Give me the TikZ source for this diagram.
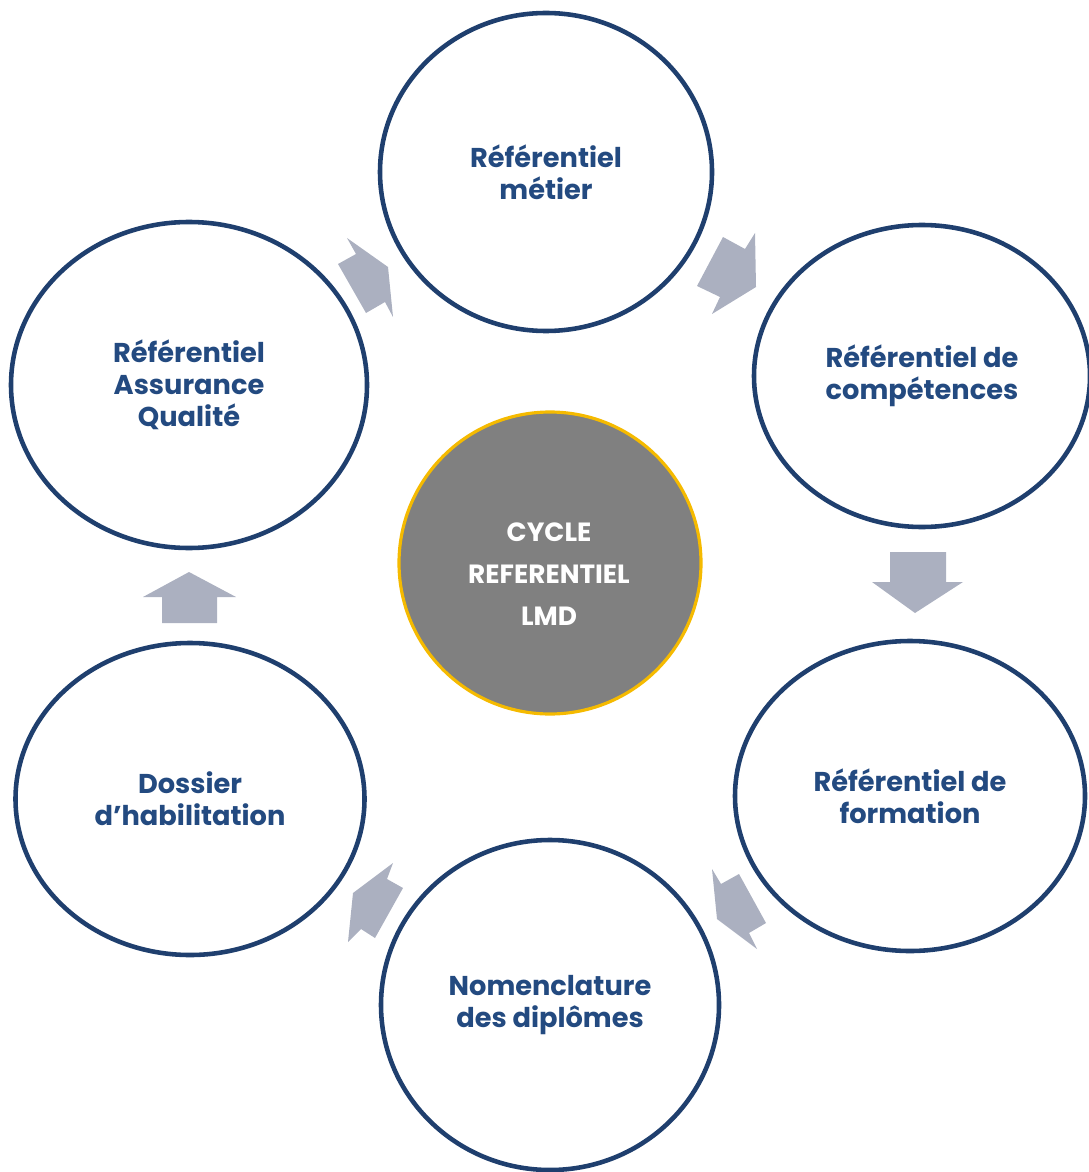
\documentclass[tikz,border=0pt]{standalone}
\usepackage{fontspec}
\setmainfont{Poppins}
\usepackage{tikz}
\usetikzlibrary{shapes.geometric}
\definecolor{ringblue}{HTML}{1F3F6E}
\definecolor{labelblue}{HTML}{234A80}
\definecolor{arrowgray}{HTML}{ABB0C0}
\definecolor{coregray}{HTML}{808080}
\definecolor{coregold}{HTML}{F5BA00}
\tikzset{every node/.style={align=center},
  ring/.style={ellipse, draw=ringblue, line width=2.6pt, fill=white, inner sep=0pt,
    font=\fontsize{15.5}{18.3}\selectfont\bfseries, text=labelblue},
  core/.style={circle, draw=coregold, line width=1.8pt, fill=coregray, inner sep=0pt,
    minimum size=302*0.02cm},
  coretext/.style={font=\fontsize{15}{24}\selectfont\bfseries, text=white},
  blockarrow/.style={fill=arrowgray, draw=none}}

\begin{document}
\begin{tikzpicture}[x=0.02cm, y=-0.02cm]
    \useasboundingbox (0,0) rectangle (1088,1172);

    % the six steps
    \node [ring, minimum width=332*0.02cm, minimum height=318*0.02cm] (metier) at (546,172) {Référentiel\\métier};
    \node [ring, minimum width=336*0.02cm, minimum height=302*0.02cm] (comp) at (922,376) {Référentiel de\\compétences};
    \node [ring, minimum width=350*0.02cm, minimum height=310*0.02cm] (form) at (910,796) {Référentiel de\\formation};
    \node [ring, minimum width=338*0.02cm, minimum height=330*0.02cm] (nomen) at (550,1005) {Nomenclature\\des diplômes};
    \node [ring, minimum width=349*0.02cm, minimum height=312*0.02cm] (habil) at (190,799) {Dossier\\d’habilitation};
    \node [ring, minimum width=356*0.02cm, minimum height=326*0.02cm] (qualite) at (189,385) {Référentiel\\Assurance\\Qualité};

    % centre
    \node [core] (cycle) at (550,563) {};
    \node [coretext] (cycletxt) at (549,574) {CYCLE\\REFERENTIEL\\LMD};

    % block arrows between the steps
    \fill [blockarrow] (723,237) -- (745,249) -- (755,233) -- (756,287) -- (712,314) -- (720,297) -- (697,286) -- cycle;
    \fill [blockarrow] (890,552) -- (946,552) -- (946,582) -- (963,582) -- (915,613) -- (872,582) -- (890,582) -- cycle;
    \fill [blockarrow] (712,869) -- (721,884) -- (739,874) -- (766,923) -- (749,933) -- (757,949) -- (717,919) -- cycle;
    \fill [blockarrow] (393,863) -- (387,879) -- (403,888) -- (375,938) -- (361,929) -- (348,942) -- (353,893) -- cycle;
    \fill [blockarrow] (189,572) -- (236,597) -- (217,597) -- (217,623) -- (162,623) -- (162,597) -- (143,597) -- cycle;
    \fill [blockarrow] (347,238) -- (356,254) -- (338,264) -- (366,313) -- (385,302) -- (393,317) -- (388,267) -- cycle;
\end{tikzpicture}
\end{document}
